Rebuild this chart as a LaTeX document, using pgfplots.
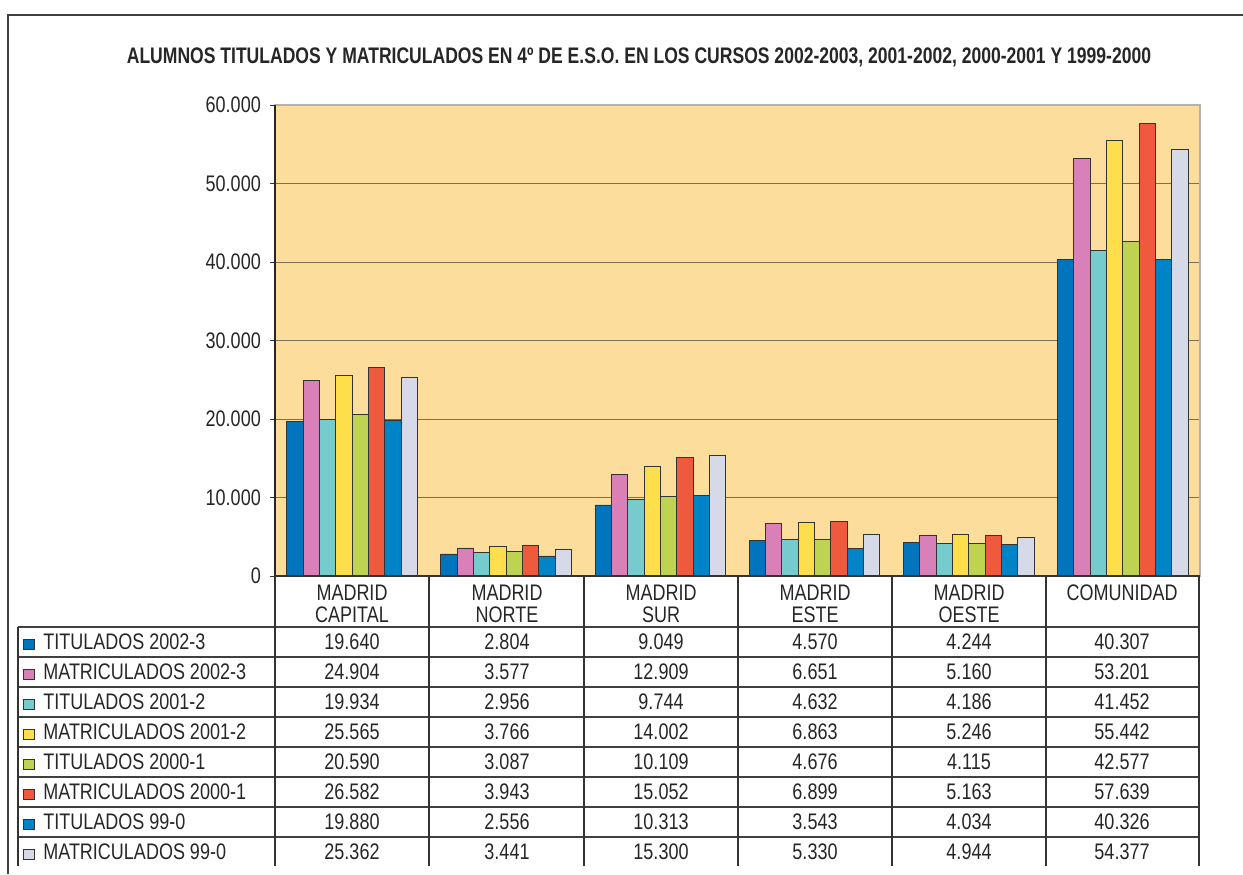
\documentclass[border=0pt]{standalone}
\usepackage{fontspec}
\setmainfont{Liberation Sans}[FakeStretch=0.8]
\newfontfamily\titlefont{Liberation Sans}[FakeStretch=0.78]
\usepackage{pgfplots}
\pgfplotsset{compat=1.18}
\definecolor{plotBg}{RGB}{253,221,155}
\definecolor{gridC}{RGB}{125,110,85}
\definecolor{cTitA}{RGB}{0,117,190}
\definecolor{cMatA}{RGB}{217,128,184}
\definecolor{cTitB}{RGB}{118,203,204}
\definecolor{cMatB}{RGB}{255,222,75}
\definecolor{cTitC}{RGB}{190,212,80}
\definecolor{cMatC}{RGB}{239,90,62}
\definecolor{cTitD}{RGB}{0,132,200}
\definecolor{cMatD}{RGB}{214,218,232}

\begin{document}
\begin{tikzpicture}
\begin{scope}[x=0.6pt,y=-0.6pt]
\useasboundingbox (0,0) rectangle (1243,874);
\draw[black!75,line width=0.9pt] (8,874) -- (8,15) -- (1243,15);
\node[font=\titlefont\fontsize{13.5}{15}\selectfont\bfseries,text=black!85] at (639,57)
  {ALUMNOS TITULADOS Y MATRICULADOS EN 4º DE E.S.O. EN LOS CURSOS 2002-2003, 2001-2002, 2000-2001 Y 1999-2000};
\end{scope}

\begin{axis}[
    at={(165pt,-345.6pt)}, anchor=south west,
    scale only axis,
    width=555pt, height=282.6pt,
    xmin=-0.5, xmax=5.5,
    ymin=0, ymax=60000,
    xtick=\empty,
    ytick={0,10000,20000,30000,40000,50000,60000},
    scaled y ticks=false,
    ytick pos=left,
    tick align=outside,
    major tick length=3pt,
    ytick style={draw=black!80},
    ymajorgrids,
    grid style={draw=gridC,line width=0.6pt},
    axis background/.style={fill=plotBg},
    axis line style={draw=black!30,line width=0.8pt},
    yticklabel style={font=\fontsize{13.5}{15}\selectfont,text=black!85,xshift=-2pt},
    /pgf/number format/.cd,1000 sep={.},assume math mode=true,
    /pgfplots/.cd,
    ybar=0pt, bar width=9.8pt,
    every axis plot/.append style={draw=black!80,line width=0.5pt},
]
\addplot[fill=cTitA] coordinates {(0,19640) (1,2804) (2,9049) (3,4570) (4,4244) (5,40307)};
\addplot[fill=cMatA] coordinates {(0,24904) (1,3577) (2,12909) (3,6651) (4,5160) (5,53201)};
\addplot[fill=cTitB] coordinates {(0,19934) (1,2956) (2,9744) (3,4632) (4,4186) (5,41452)};
\addplot[fill=cMatB] coordinates {(0,25565) (1,3766) (2,14002) (3,6863) (4,5246) (5,55442)};
\addplot[fill=cTitC] coordinates {(0,20590) (1,3087) (2,10109) (3,4676) (4,4115) (5,42577)};
\addplot[fill=cMatC] coordinates {(0,26582) (1,3943) (2,15052) (3,6899) (4,5163) (5,57639)};
\addplot[fill=cTitD] coordinates {(0,19880) (1,2556) (2,10313) (3,3543) (4,4034) (5,40326)};
\addplot[fill=cMatD] coordinates {(0,25362) (1,3441) (2,15300) (3,5330) (4,4944) (5,54377)};
\end{axis}

\begin{scope}[x=0.6pt,y=-0.6pt,font=\fontsize{13.5}{13.2}\selectfont,text=black!85]
% plot frame left edge
\draw[black!85,line width=0.8pt] (275,105) -- (275,576);
% table grid
\draw[black!80,line width=0.8pt] (275,576) -- (1200,576);
\foreach \yy in {627,657,...,837} \draw[black!75,line width=0.8pt] (18,\yy) -- (1200,\yy);
\draw[black!80,line width=0.8pt] (18,627) -- (18,866);
\foreach \xx in {275,429,584,738,892,1046,1199} \draw[black!80,line width=0.8pt] (\xx,576) -- (\xx,866);
% column headers
\node[align=center] at (352,604) {MADRID\\CAPITAL};
\node[align=center] at (507,604) {MADRID\\NORTE};
\node[align=center] at (661,604) {MADRID\\SUR};
\node[align=center] at (815,604) {MADRID\\ESTE};
\node[align=center] at (969,604) {MADRID\\OESTE};
\node at (1122,593) {COMUNIDAD};
% rows
\foreach \lab/\col/\va/\vb/\vc/\vd/\ve/\vf [count=\i from 0] in {
  TITULADOS 2002-3/cTitA/19.640/2.804/9.049/4.570/4.244/40.307,
  MATRICULADOS 2002-3/cMatA/24.904/3.577/12.909/6.651/5.160/53.201,
  TITULADOS 2001-2/cTitB/19.934/2.956/9.744/4.632/4.186/41.452,
  MATRICULADOS 2001-2/cMatB/25.565/3.766/14.002/6.863/5.246/55.442,
  TITULADOS 2000-1/cTitC/20.590/3.087/10.109/4.676/4.115/42.577,
  MATRICULADOS 2000-1/cMatC/26.582/3.943/15.052/6.899/5.163/57.639,
  TITULADOS 99-0/cTitD/19.880/2.556/10.313/3.543/4.034/40.326,
  MATRICULADOS 99-0/cMatD/25.362/3.441/15.300/5.330/4.944/54.377}{
  \pgfmathsetmacro{\yc}{642+30*\i}
  \filldraw[fill=\col,draw=black!80,line width=0.5pt] (23,\yc-3) rectangle (34,\yc+7);
  \node[anchor=west,inner sep=0pt] at (43,\yc) {\lab};
  \node at (352,\yc) {\va};
  \node at (507,\yc) {\vb};
  \node at (661,\yc) {\vc};
  \node at (815,\yc) {\vd};
  \node at (969,\yc) {\ve};
  \node at (1122,\yc) {\vf};
}
\end{scope}
\end{tikzpicture}
\end{document}
